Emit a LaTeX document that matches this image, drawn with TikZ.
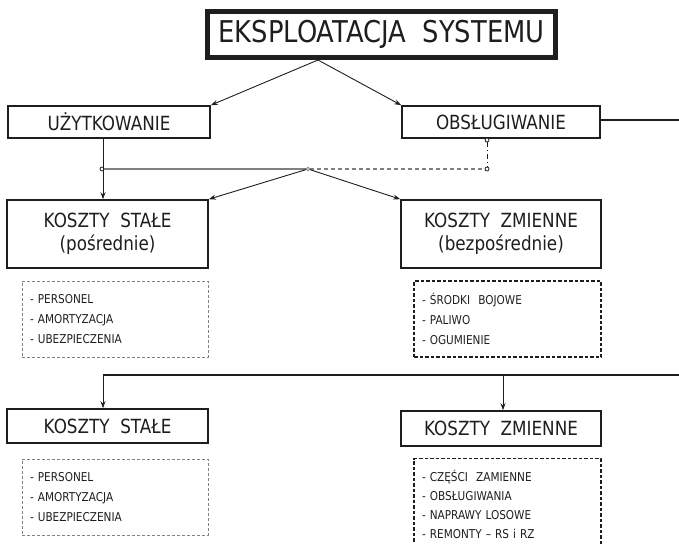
\documentclass[tikz,border=0pt]{standalone}
\usepackage{fontspec}
\newfontfamily\tah[FakeStretch=0.86]{DejaVu Sans}
\usetikzlibrary{arrows.meta}
\definecolor{ink}{HTML}{1E1E1E}
\definecolor{greyline}{HTML}{808080}

\begin{document}
\begin{tikzpicture}[x=1pt,y=-1pt,
  box/.style={draw=ink, line width=1.6pt, fill=white, text=ink, inner sep=0pt, align=center},
  mainbox/.style={box, line width=5pt, font=\tah\fontsize{30}{32}\selectfont},
  phasetext/.style={font=\tah\fontsize{19.5}{22}\selectfont},
  costtext/.style={font=\tah\fontsize{19.5}{23}\selectfont},
  listbox/.style={text=ink, inner ysep=0pt, inner xsep=8pt, align=left,
    font=\tah\fontsize{12.2}{20}\selectfont, line width=1pt, dash pattern=on 3pt off 2pt},
  softlist/.style={listbox, draw=greyline},
  hardlist/.style={listbox, draw=ink, line width=1.5pt, dash pattern=on 3.5pt off 2pt},
  arr/.style={draw=ink, line width=0.9pt, -{Stealth[length=7pt,width=5pt]}},
  heavy/.style={draw=ink, line width=2pt},
  dot/.style={circle, draw=ink, fill=white, line width=0.8pt, inner sep=0pt, minimum size=4pt}
]
\useasboundingbox (0,0) rectangle (679,543);
\clip (0,0) rectangle (679,543);

% junction points
\coordinate (tp) at (318,60);
\coordinate (r1) at (679,120);
\coordinate (bl) at (103,375);
\coordinate (bm) at (503,375);
\coordinate (br) at (679,375);

% top level
\node[mainbox, minimum width=348pt, minimum height=46pt] (top) at (381.5,34.5)
  {EKSPLOATACJA~ SYSTEMU};

% phases
\node[box, phasetext, minimum width=202pt, minimum height=32pt] (uzyt) at (109,122) {UŻYTKOWANIE};
\node[box, phasetext, minimum width=198pt, minimum height=32pt] (obsl) at (501,122) {OBSŁUGIWANIE};

% cost groups for usage
\node[box, costtext, minimum width=201pt, minimum height=68pt] (ks1) at (107.5,234)
  {KOSZTY~ STAŁE\\(pośrednie)};
\node[box, costtext, minimum width=200pt, minimum height=68pt] (kz1) at (501,234)
  {KOSZTY~ ZMIENNE\\(bezpośrednie)};

\node[softlist, text width=170pt, minimum height=76pt] (l1) at (115,319)
  {- PERSONEL\\- AMORTYZACJA\\- UBEZPIECZENIA};
\node[hardlist, text width=171pt, minimum height=76pt] (l2) at (507.5,319)
  {- ŚRODKI~ BOJOWE\\- PALIWO\\- OGUMIENIE};

% cost groups for maintenance
\node[box, costtext, minimum width=201pt, minimum height=34pt] (ks2) at (107.5,426) {KOSZTY~ STAŁE};
\node[box, costtext, minimum width=200pt, minimum height=35pt] (kz2) at (501,428.5) {KOSZTY~ ZMIENNE};

\node[softlist, text width=170pt, minimum height=76pt] (l3) at (115,497)
  {- PERSONEL\\- AMORTYZACJA\\- UBEZPIECZENIA};
\node[hardlist, text width=171pt, minimum height=91pt,
      font=\tah\fontsize{12.2}{19}\selectfont] (l4) at (507.5,504)
  {- CZĘŚCI~ ZAMIENNE\\- OBSŁUGIWANIA\\- NAPRAWY LOSOWE\\- REMONTY – RS i RZ};

% branch from the top box
\draw[arr] (tp) -- (uzyt.north east);
\draw[arr] (tp) -- (obsl.north west);

% junction dots
\node[dot] (d1) at (102,169) {};
\node[dot, draw=greyline, minimum size=3.5pt] (dm) at (308,169) {};
\node[dot] (dr) at (487,169) {};
\node[dot] (dt) at (487,140) {};

% links between usage and maintenance
\draw[draw=greyline, line width=1.1pt] (d1) -- (dm);
\draw[draw=greyline, line width=1.1pt, dash pattern=on 4pt off 3pt] (dm) -- (dr);
\draw[draw=ink, line width=1pt, dash pattern=on 5pt off 3pt on 1pt off 3pt] (dt) -- (dr);
\draw[arr] (uzyt.south -| bl) -- (ks1.north -| bl);
\draw[arr] (dm) -- (ks1.north east);
\draw[arr] (dm) -- (kz1.north west);

% maintenance branch
\draw[heavy] (obsl.east |- r1) -- (r1);
\draw[heavy] (br) -- (bl);
\draw[arr] (bl) -- (ks2.north -| bl);
\draw[arr] (bm) -- (kz2.north -| bm);
\end{tikzpicture}
\end{document}
